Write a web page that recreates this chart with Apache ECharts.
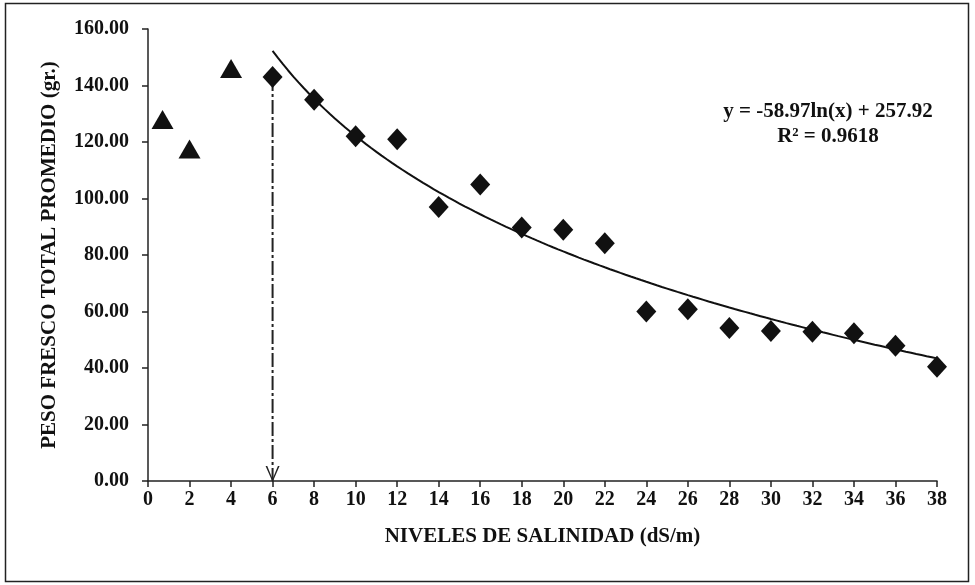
<!DOCTYPE html>
<html><head><meta charset="utf-8">
<script src="https://cdn.jsdelivr.net/npm/echarts@6/dist/echarts.min.js"></script>
<style>html,body{margin:0;padding:0;background:#fff}#c{width:975px;height:585px}</style>
</head><body><div id="c"></div>
<script>
// Data
const triX = [0.7, 2, 4];
const triY = [128, 117.5, 146];
const diaX = [6, 8, 10, 12, 14, 16, 18, 20, 22, 24, 26, 28, 30, 32, 34, 36, 38];
const diaY = [143, 135, 122, 121, 97, 105, 89.7, 88.9, 84.2, 60, 60.8, 54.2, 53.1, 52.8, 52.3, 47.9, 40.4];
const trendA = -58.97, trendB = 257.92; // y = a ln(x) + b
const trendRange = [6, 38];
const arrowX = 6, arrowTop = 143, arrowBottom = 0;
const xTicks = [0, 2, 4, 6, 8, 10, 12, 14, 16, 18, 20, 22, 24, 26, 28, 30, 32, 34, 36, 38];
const yTicks = [0, 20, 40, 60, 80, 100, 120, 140, 160];

const trend = [];
for (let x = trendRange[0]; x <= trendRange[1] + 1e-9; x += 0.25) trend.push([x, trendA * Math.log(x) + trendB]);

const FONT = 'Liberation Serif';
const chart = echarts.init(document.getElementById('c'));
chart.setOption({
  animation: false,
  backgroundColor: '#fff',
  grid: { left: 148, right: 38, top: 29, bottom: 104, containLabel: false },
  xAxis: {
    type: 'value', min: xTicks[0], max: xTicks[xTicks.length - 1], interval: 2,
    name: 'NIVELES DE SALINIDAD (dS/m)', nameLocation: 'middle', nameGap: 45,
    nameTextStyle: { fontFamily: FONT, fontWeight: 'bold', fontSize: 21, color: '#111' },
    axisLine: { lineStyle: { color: '#222', width: 1.5 } },
    axisTick: { show: true, length: 6, lineStyle: { color: '#222', width: 1.5 } },
    axisLabel: { fontFamily: FONT, fontWeight: 'bold', fontSize: 20, color: '#111', margin: 9 },
    splitLine: { show: false }
  },
  yAxis: {
    type: 'value', min: yTicks[0], max: yTicks[yTicks.length - 1], interval: 20,
    name: 'PESO FRESCO TOTAL PROMEDIO (gr.)', nameLocation: 'middle', nameGap: 88, nameRotate: 90,
    nameTextStyle: { fontFamily: FONT, fontWeight: 'bold', fontSize: 21, color: '#111' },
    axisLine: { show: true, lineStyle: { color: '#222', width: 1.5 } },
    axisTick: { show: true, length: 6, lineStyle: { color: '#222', width: 1.5 } },
    axisLabel: { fontFamily: FONT, fontWeight: 'bold', fontSize: 20, color: '#111', margin: 19,
      formatter: v => v.toFixed(2) },
    splitLine: { show: false }
  },
  graphic: [
    { type: 'rect', shape: { x: 5.5, y: 3.5, width: 963, height: 578 }, style: { fill: 'none', stroke: '#222', lineWidth: 1.5 }, silent: true },
    { type: 'text', x: 828, y: 112, style: { text: 'y = -58.97ln(x) + 257.92', font: 'bold 21px "Liberation Serif"', fill: '#111', align: 'center', verticalAlign: 'middle' } },
    { type: 'text', x: 828, y: 137, style: { text: 'R² = 0.9618', font: 'bold 21px "Liberation Serif"', fill: '#111', align: 'center', verticalAlign: 'middle' } }
  ],
  series: [
    {
      type: 'line', data: trend.map(p => [p[0], p[1]]), showSymbol: false, symbol: 'none',
      lineStyle: { color: '#111', width: 2 }, z: 2
    },
    {
      type: 'line',
      data: [
        { value: [arrowX, arrowTop], symbol: 'none' },
        { value: [arrowX, arrowBottom], symbol: 'path://M0,0 L1.2,0 L5,9 L8.8,0 L10,0 L5,11 Z', symbolSize: [14, 16], symbolOffset: [0, -7] }
      ],
      lineStyle: { color: '#222', width: 2, type: [14, 3, 3, 3] },
      itemStyle: { color: '#222' }, z: 1
    },
    {
      type: 'scatter', data: triX.map((x, i) => [x, triY[i]]), symbol: 'triangle', symbolSize: [22, 19],
      itemStyle: { color: '#111', opacity: 1 }, z: 3
    },
    {
      type: 'scatter', data: diaX.map((x, i) => [x, diaY[i]]), symbol: 'diamond', symbolSize: [20, 22],
      itemStyle: { color: '#111', opacity: 1 }, z: 3
    }
  ]
});
</script></body></html>
